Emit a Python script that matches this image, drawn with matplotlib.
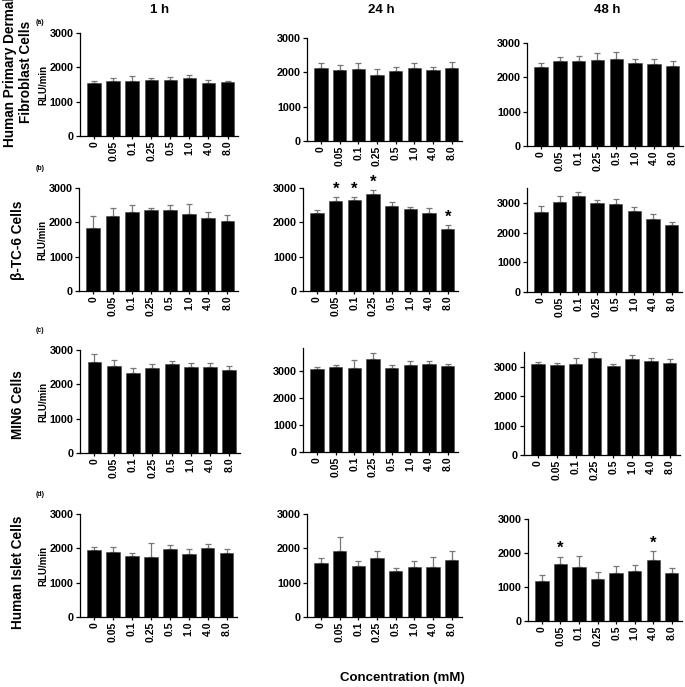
import matplotlib
matplotlib.use("Agg")
import matplotlib.pyplot as plt

plt.rcParams['font.family'] = ['Liberation Sans', 'DejaVu Sans']
plt.rcParams['font.weight'] = 'bold'

conc_labels = ["0", "0.05", "0.1", "0.25", "0.5", "1.0", "4.0", "8.0"]
time_titles = ["1 h", "24 h", "48 h"]
row_labels = ["Human Primary Dermal\nFibroblast Cells", "β-TC-6 Cells", "MIN6 Cells", "Human Islet Cells"]
panel_tags = ["(a)", "(b)", "(c)", "(d)"]

# means [row][col]
fib_1h = [1550, 1590, 1615, 1625, 1625, 1685, 1558, 1577]
fib_1h_err = [60, 100, 135, 60, 90, 90, 80, 30]
fib_24h = [2120, 2060, 2100, 1935, 2033, 2131, 2082, 2121]
fib_24h_err = [165, 155, 185, 155, 135, 155, 70, 175]
fib_48h = [2287, 2463, 2463, 2502, 2532, 2414, 2385, 2326]
fib_48h_err = [120, 117, 165, 205, 205, 118, 147, 137]

btc_1h = [1840, 2190, 2288, 2347, 2347, 2240, 2113, 2045]
btc_1h_err = [330, 225, 215, 70, 145, 300, 185, 175]
btc_24h = [2258, 2610, 2639, 2825, 2463, 2385, 2278, 1818]
btc_24h_err = [100, 127, 100, 117, 127, 60, 136, 98]
btc_48h = [2695, 3024, 3239, 3001, 2967, 2729, 2469, 2242]
btc_48h_err = [193, 204, 136, 102, 170, 136, 147, 102]

min_1h = [2659, 2542, 2318, 2464, 2600, 2503, 2503, 2415]
min_1h_err = [215, 165, 165, 136, 87, 126, 126, 117]
min_24h = [3062, 3123, 3099, 3420, 3111, 3210, 3235, 3160]
min_24h_err = [74, 87, 296, 222, 99, 148, 111, 75]
min_48h = [3102, 3057, 3102, 3295, 3035, 3261, 3193, 3125]
min_48h_err = [46, 57, 205, 193, 45, 136, 91, 125]

isl_1h = [1955, 1887, 1769, 1750, 1994, 1828, 2023, 1857]
isl_1h_err = [88, 146, 98, 400, 117, 147, 98, 118]
isl_24h = [1564, 1926, 1476, 1730, 1349, 1457, 1447, 1662]
isl_24h_err = [147, 391, 147, 186, 88, 166, 313, 264]
isl_48h = [1190, 1681, 1593, 1249, 1426, 1485, 1780, 1406]
isl_48h_err = [177, 207, 324, 206, 206, 167, 275, 148]

means = [[fib_1h, fib_24h, fib_48h], [btc_1h, btc_24h, btc_48h],
         [min_1h, min_24h, min_48h], [isl_1h, isl_24h, isl_48h]]
errs = [[fib_1h_err, fib_24h_err, fib_48h_err], [btc_1h_err, btc_24h_err, btc_48h_err],
        [min_1h_err, min_24h_err, min_48h_err], [isl_1h_err, isl_24h_err, isl_48h_err]]
ymax = [[3000, 3000, 3000], [3000, 3000, 3500], [3000, 3830, 3500], [3000, 3000, 3000]]
stars = {(1, 1): [1, 2, 3, 7], (3, 2): [1, 6]}

W, H = 685, 687
# axes boxes in pixels: left, right, top, bottom
boxes = [
    [(80, 238, 33, 136), (307, 462, 38, 141), (527, 683, 43, 146)],
    [(79, 238, 188, 291), (303, 458, 188, 291), (527, 682, 188, 292)],
    [(80, 240, 350, 453), (303, 458, 348, 452), (524, 680, 352, 455)],
    [(80, 237, 514, 617), (307, 462, 514, 617), (528, 682, 519, 621)],
]

fig = plt.figure(figsize=(W / 100, H / 100), dpi=100)

for r in range(4):
    for c in range(3):
        l, rt, t, b = boxes[r][c]
        ax = fig.add_axes([l / W, 1 - b / H, (rt - l) / W, (b - t) / H])
        x = list(range(len(conc_labels)))
        m = means[r][c]
        e = errs[r][c]
        ax.bar(x, m, width=0.72, color='black', edgecolor='#444444', linewidth=0.4, zorder=2)
        ax.errorbar(x, m, yerr=[[0] * len(e), e], fmt='none', ecolor='#777777',
                    elinewidth=0.9, capsize=2.5, capthick=0.9, zorder=1)
        ax.set_xlim(-0.75, 7.55)
        ax.set_ylim(0, ymax[r][c])
        ax.set_yticks([0, 1000, 2000, 3000])
        ax.set_xticks(x)
        ax.set_xticklabels(conc_labels, rotation=90, fontsize=7.5, fontweight='bold')
        for lab in ax.get_yticklabels():
            lab.set_fontsize(7.8)
            lab.set_fontweight('bold')
        ax.spines['top'].set_visible(False)
        ax.spines['right'].set_visible(False)
        ax.spines['left'].set_linewidth(0.9)
        ax.spines['bottom'].set_linewidth(0.9)
        ax.tick_params(axis='both', length=3, width=0.9, pad=1.5)
        ax.tick_params(axis='x', length=2)
        if c == 0:
            ax.set_ylabel("RLU/min", fontsize=7, fontweight='bold', labelpad=1)
        if (r, c) in stars:
            for i in stars[(r, c)]:
                ax.text(i, m[i] + e[i] + 20, "*", ha='center', va='bottom',
                        fontsize=12, fontweight='bold')

for c, (title, xp) in enumerate(zip(time_titles, [160, 381, 607])):
    fig.text(xp / W, 1 - 10 / H, title, ha='center', va='center', fontsize=9.5, fontweight='bold')

for lab, yp in zip(row_labels, [72, 240, 405, 572]):
    fig.text(18 / W, 1 - yp / H, lab, ha='center', va='center', rotation=90,
             fontsize=9.8, fontweight='bold', linespacing=1.15)

for tag, yp in zip(panel_tags, [22, 168, 330, 495]):
    fig.text(40 / W, 1 - yp / H, tag, ha='center', va='center', fontsize=5, fontweight='bold')

fig.text(402 / W, 1 - 678 / H, "Concentration (mM)", ha='center', va='center',
         fontsize=9.5, fontweight='bold')

fig.savefig("out.png", dpi=100)
